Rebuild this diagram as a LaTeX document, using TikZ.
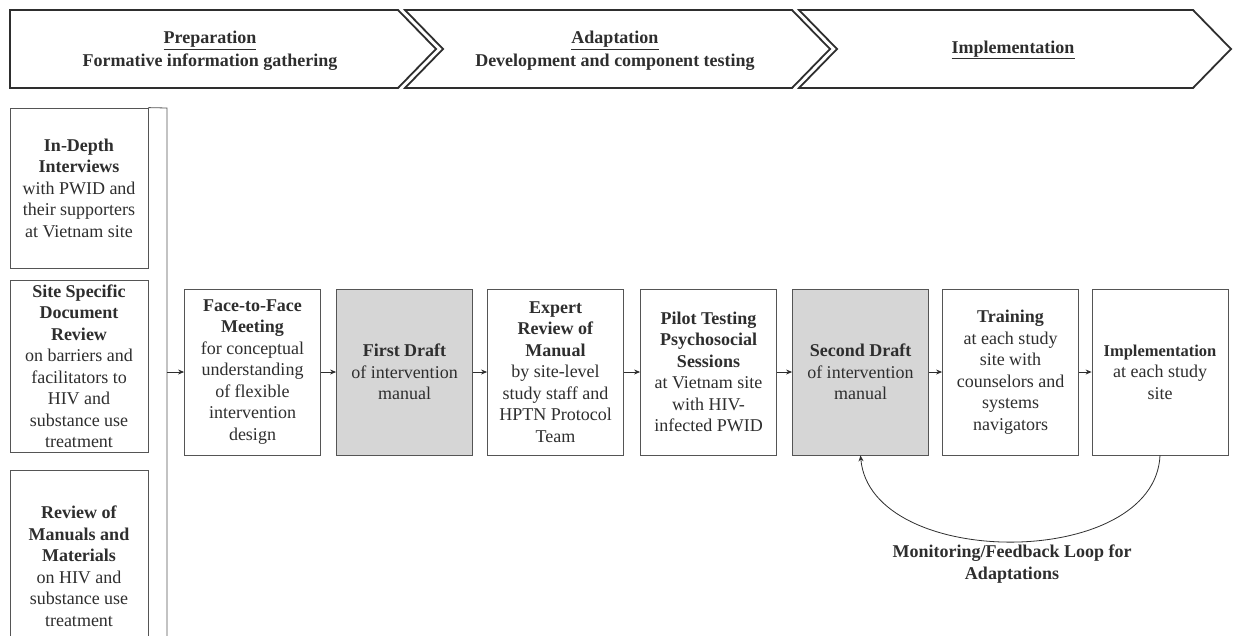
\documentclass[tikz,border=0pt]{standalone}
\usepackage{fontspec}
\setmainfont{Liberation Serif}
\usetikzlibrary{arrows.meta}
\definecolor{txt}{HTML}{2E2E2E}
\definecolor{edge}{HTML}{555555}
\definecolor{shade}{HTML}{D6D6D6}
\tikzset{
  box/.style={draw=edge, line width=0.8pt, align=center, inner xsep=2pt, inner ysep=0pt,
    text=txt, minimum width=136, minimum height=166},
  lbox/.style={box, minimum width=138},
  chev/.style={draw=txt, line width=1.8pt, line join=miter},
  arr/.style={draw=txt, line width=0.8pt, -{Stealth[length=6pt,width=5pt]}},
  hdr/.style={align=center, text=txt, font=\fontsize{18}{21.5}\selectfont\bfseries},
}
\begin{document}
\begin{tikzpicture}[x=1pt,y=-1pt,font=\fontsize{18}{21.5}\selectfont]
\useasboundingbox (0,0) rectangle (1235,635);
\fill[white] (0,0) rectangle (1235,635);
% chevrons
\draw[chev] (10,10) -- (398,10) -- (436,49) -- (398,88) -- (10,88) -- cycle;
\draw[chev] (405,10) -- (792,10) -- (830,49) -- (792,88) -- (405,88) -- (443,49) -- cycle;
\draw[chev] (799,10) -- (1193,10) -- (1231,49) -- (1193,88) -- (799,88) -- (837,49) -- cycle;
\node[hdr, font=\fontsize{18}{23}\selectfont\bfseries] (hprep) at (210,51) {\underline{Preparation}\\Formative information gathering};
\node[hdr, font=\fontsize{18}{23}\selectfont\bfseries] (hadapt) at (615,51) {\underline{Adaptation}\\Development and component testing};
\node[hdr] (himpl) at (1013,50) {\underline{Implementation}};
% left column
\node[lbox, minimum height=160] (b1) at (79,188) {\textbf{In-Depth}\\\textbf{Interviews}\\with PWID and\\their supporters\\at Vietnam site};
\node[lbox, minimum height=172] (b2) at (79,366) {\textbf{Site Specific}\\\textbf{Document}\\\textbf{Review}\\on barriers and\\facilitators to\\HIV and\\substance use\\treatment};
\node[lbox, minimum height=192] (b3) at (79,566) {\textbf{Review of}\\\textbf{Manuals and}\\\textbf{Materials}\\on HIV and\\substance use\\treatment};
\coordinate (brtop) at (167,108);
\coordinate (brbot) at (167,645);
\coordinate (brmid) at (167,372);
\draw[draw=edge, line width=0.8pt] (b1.north east) -- (brtop) -- (brbot);
% main row
\node[box] (face) at (252.5,372) {\textbf{Face-to-Face}\\\textbf{Meeting}\\for conceptual\\understanding\\of flexible\\intervention\\design};
\node[box, fill=shade] (first) at (404.5,372) {\textbf{First Draft}\\of intervention\\manual};
\node[box] (expert) at (555.5,372) {\textbf{Expert}\\\textbf{Review of}\\\textbf{Manual}\\by site-level\\study staff and\\HPTN Protocol\\Team};
\node[box] (pilot) at (708.5,372) {\textbf{Pilot Testing}\\\textbf{Psychosocial}\\\textbf{Sessions}\\at Vietnam site\\with HIV-\\infected PWID};
\node[box, fill=shade] (second) at (860.5,372) {\textbf{Second Draft}\\of intervention\\manual};
\node[box] (train) at (1010.5,372) {\textbf{Training}\\at each study\\site with\\counselors and\\systems\\navigators};
\node[box] (impl) at (1160,372) {{\fontsize{16.5}{21.5}\selectfont\textbf{Implementation}}\\at each study\\site};
\draw[arr] (brmid) -- (face.west);
\draw[arr] (face) -- (first);
\draw[arr] (first) -- (expert);
\draw[arr] (expert) -- (pilot);
\draw[arr] (pilot) -- (second);
\draw[arr] (second) -- (train);
\draw[arr] (train) -- (impl);
% feedback loop
\draw[arr] (impl.south) .. controls +(-5,115) and +(10,115) .. (second.south);
\node[hdr] (loop) at (1012,564) {Monitoring/Feedback Loop for\\Adaptations};
\end{tikzpicture}
\end{document}
